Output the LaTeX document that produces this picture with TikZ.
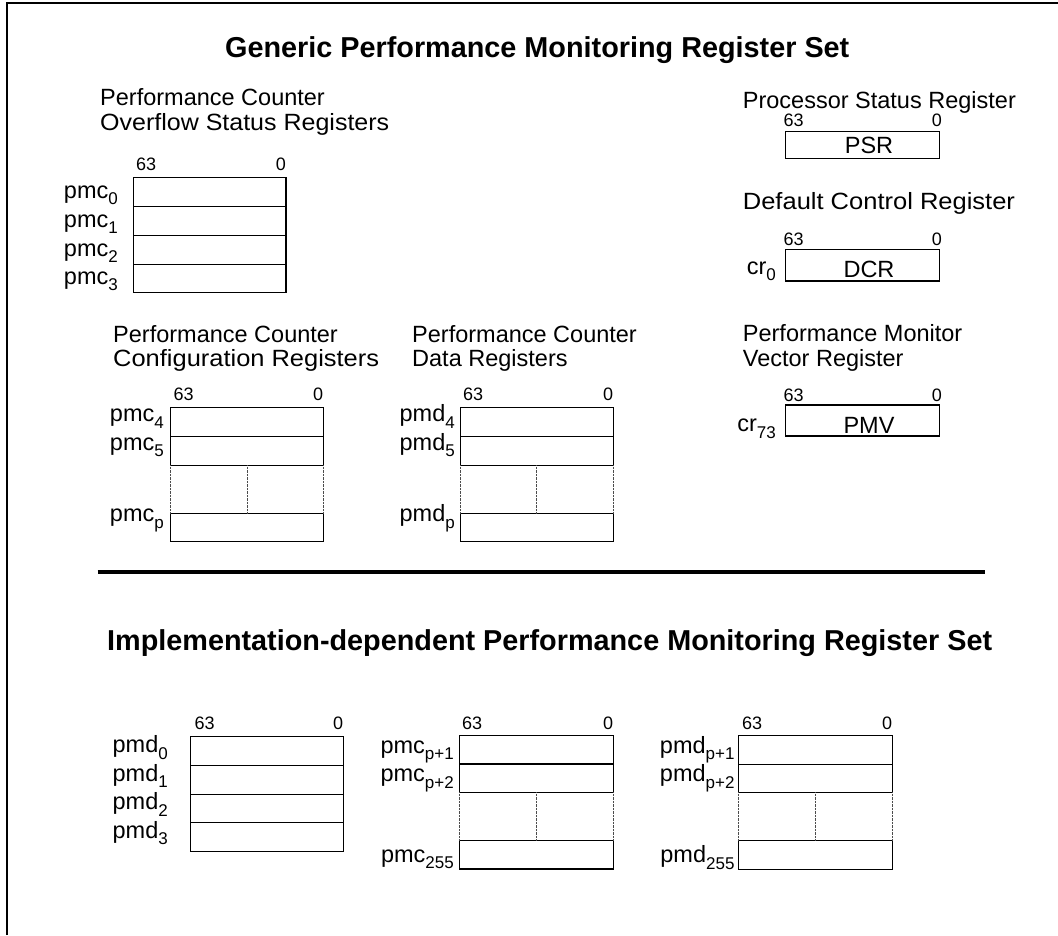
\documentclass[tikz,border=0pt]{standalone}
\usepackage{graphicx}
\usepackage{fontspec}
\setmainfont{Liberation Sans}
\newcommand{\rl}[2]{#1\raisebox{-6.5pt}{\fontsize{17}{17}\selectfont#2}}
\begin{document}
\begin{tikzpicture}[x=1pt,y=-1pt,
  reg/.style={line width=1.2pt},
  dots/.style={line width=1pt, dash pattern=on 0.7pt off 0.7pt, black!70},
  frame/.style={line width=1.3pt},
  sep/.style={line width=3.3pt},
  lbl/.style={inner sep=0pt, font=\fontsize{23.5}{25}\selectfont},
  bit/.style={inner sep=0pt, font=\fontsize{18}{18}\selectfont},
  ttl/.style={inner sep=0pt, font=\fontsize{28.8}{30}\selectfont\bfseries},
]
\useasboundingbox (0,0) rectangle (1058,935);
% frame
\draw[frame] (7,935) -- (7,3) -- (1058,3);
% titles
\node[ttl, anchor=base west] (t1) at (225,57.7) {Generic Performance Monitoring Register Set};
\node[ttl, anchor=base west] (t2) at (107,650) {Implementation-dependent Performance Monitoring Register Set};
\draw[sep] (97.7,572) -- (985,572);

% ---------- Block A: overflow status ----------
\node[lbl, anchor=base west] (hA1) at (100,105) {Performance Counter};
\node[lbl, anchor=base west] (hA2) at (100,130) {\scalebox{1.064}[1]{Overflow Status Registers}};
\draw[reg] (133.3,177.7) rectangle (286,206.3);
\draw[reg] (133.3,206.3) rectangle (286,235.3);
\draw[reg] (133.3,235.3) rectangle (286,264.3);
\draw[reg] (133.3,264.3) rectangle (286,292.3);
\node[bit, anchor=base west] (bA1) at (136,170.5) {63};
\node[bit, anchor=base east] (bA0) at (286,170.5) {0};
\node[lbl, anchor=base east] (lA0) at (118,198) {\rl{pmc}{0}};
\node[lbl, anchor=base east] (lA1) at (118,227) {\rl{pmc}{1}};
\node[lbl, anchor=base east] (lA2) at (118,256) {\rl{pmc}{2}};
\node[lbl, anchor=base east] (lA3) at (118,284.3) {\rl{pmc}{3}};

% ---------- Block B: configuration ----------
\node[lbl, anchor=base west] (hB1) at (113,342) {Performance Counter};
\node[lbl, anchor=base west] (hB2) at (113,366.5) {\scalebox{1.083}[1]{Configuration Registers}};
\draw[reg] (170.7,407.3) rectangle (323.3,436.3);
\draw[reg] (170.7,436.3) rectangle (323.3,465.3);
\draw[reg] (170.7,513.3) rectangle (323.3,541.3);
\draw[dots] (170.7,465.3) -- (170.7,513.3);
\draw[dots] (247.3,465.3) -- (247.3,513.3);
\draw[dots] (323.3,465.3) -- (323.3,513.3);
\node[bit, anchor=base west] (bB1) at (173.3,400.5) {63};
\node[bit, anchor=base east] (bB0) at (323.3,400.5) {0};
\node[lbl, anchor=base east] (lB4) at (164,421.7) {\rl{pmc}{4}};
\node[lbl, anchor=base east] (lB5) at (164,450) {\rl{pmc}{5}};
\node[lbl, anchor=base east] (lBp) at (164,521.7) {\rl{pmc}{p}};

% ---------- Block C: data ----------
\node[lbl, anchor=base west] (hC1) at (412,342) {Performance Counter};
\node[lbl, anchor=base west] (hC2) at (412,366.5) {Data Registers};
\draw[reg] (460.7,407.3) rectangle (613.3,436.3);
\draw[reg] (460.7,436.3) rectangle (613.3,465.3);
\draw[reg] (460.7,513.3) rectangle (613.3,541.3);
\draw[dots] (460.7,465.3) -- (460.7,513.3);
\draw[dots] (536.7,465.3) -- (536.7,513.3);
\draw[dots] (613.3,465.3) -- (613.3,513.3);
\node[bit, anchor=base west] (bC1) at (463,400.5) {63};
\node[bit, anchor=base east] (bC0) at (613.3,400.5) {0};
\node[lbl, anchor=base east] (lC4) at (455,421.7) {\rl{pmd}{4}};
\node[lbl, anchor=base east] (lC5) at (455,450) {\rl{pmd}{5}};
\node[lbl, anchor=base east] (lCp) at (455,521.7) {\rl{pmd}{p}};

% ---------- Right column ----------
\node[lbl, anchor=base west] (hPSR) at (742.7,108.3) {Processor Status Register};
\draw[reg] (785.3,131.3) rectangle (939.3,158.3);
\node[bit, anchor=base west] (bP1) at (783.5,126.7) {63};
\node[bit, anchor=base east] (bP0) at (942,126.7) {0};
\node[lbl, anchor=base] (PSR) at (869,153) {PSR};

\node[lbl, anchor=base west] (hDCR) at (742.7,209.3) {\scalebox{1.085}[1]{Default Control Register}};
\draw[reg] (785.3,249.3) rectangle (939.3,281);
\node[bit, anchor=base west] (bD1) at (783.5,245) {63};
\node[bit, anchor=base east] (bD0) at (942,245) {0};
\node[lbl, anchor=base] (DCR) at (869,277) {DCR};
\node[lbl, anchor=base east] (cr0) at (776,274.3) {\rl{cr}{0}};

\node[lbl, anchor=base west] (hPMV1) at (742.7,341.7) {Performance Monitor};
\node[lbl, anchor=base west] (hPMV2) at (742.7,366.7) {Vector Register};
\draw[reg] (785.3,405) rectangle (939.3,436);
\node[bit, anchor=base west] (bV1) at (783.5,401.5) {63};
\node[bit, anchor=base east] (bV0) at (942,401.5) {0};
\node[lbl, anchor=base] (PMV) at (869,433) {PMV};
\node[lbl, anchor=base east] (cr73) at (776,431.7) {\rl{cr}{73}};

% ---------- Block D ----------
\draw[reg] (190.3,736.7) rectangle (343.3,765.3);
\draw[reg] (190.3,765.3) rectangle (343.3,794.3);
\draw[reg] (190.3,794.3) rectangle (343.3,822.7);
\draw[reg] (190.3,822.7) rectangle (343.3,851.3);
\node[bit, anchor=base west] (bDD1) at (194.3,729.3) {63};
\node[bit, anchor=base east] (bDD0) at (343.3,729.3) {0};
\node[lbl, anchor=base east] (lD0) at (168,752.7) {\rl{pmd}{0}};
\node[lbl, anchor=base east] (lD1) at (168,781) {\rl{pmd}{1}};
\node[lbl, anchor=base east] (lD2) at (168,809.5) {\rl{pmd}{2}};
\node[lbl, anchor=base east] (lD3) at (168,838.3) {\rl{pmd}{3}};

% ---------- Block E ----------
\draw[reg] (459.3,735.3) rectangle (613.3,764);
\draw[reg] (459.3,764) rectangle (613.3,792.3);
\draw[reg] (459.3,840.3) rectangle (613.3,869);
\draw[dots] (459.3,792.3) -- (459.3,840.3);
\draw[dots] (536.3,792.3) -- (536.3,840.3);
\draw[dots] (613.3,792.3) -- (613.3,840.3);
\node[bit, anchor=base west] (bE1) at (462,729.3) {63};
\node[bit, anchor=base east] (bE0) at (613.3,729.3) {0};
\node[lbl, anchor=base east] (lE1) at (454,753.3) {\rl{pmc}{p+1}};
\node[lbl, anchor=base east] (lE2) at (454,781.7) {\rl{pmc}{p+2}};
\node[lbl, anchor=base east] (lE3) at (454,862) {\rl{pmc}{255}};

% ---------- Block F ----------
\draw[reg] (738.7,735.3) rectangle (892.3,764.3);
\draw[reg] (738.7,764.3) rectangle (892.3,792.3);
\draw[reg] (738.7,840.3) rectangle (892.3,869.3);
\draw[dots] (738.7,792.3) -- (738.7,840.3);
\draw[dots] (815.3,792.3) -- (815.3,840.3);
\draw[dots] (892.3,792.3) -- (892.3,840.3);
\node[bit, anchor=base west] (bF1) at (742,729.3) {63};
\node[bit, anchor=base east] (bF0) at (892.3,729.3) {0};
\node[lbl, anchor=base east] (lF1) at (734.7,753.3) {\rl{pmd}{p+1}};
\node[lbl, anchor=base east] (lF2) at (734.7,781.7) {\rl{pmd}{p+2}};
\node[lbl, anchor=base east] (lF3) at (734.7,862.5) {\rl{pmd}{255}};
\end{tikzpicture}
\end{document}
